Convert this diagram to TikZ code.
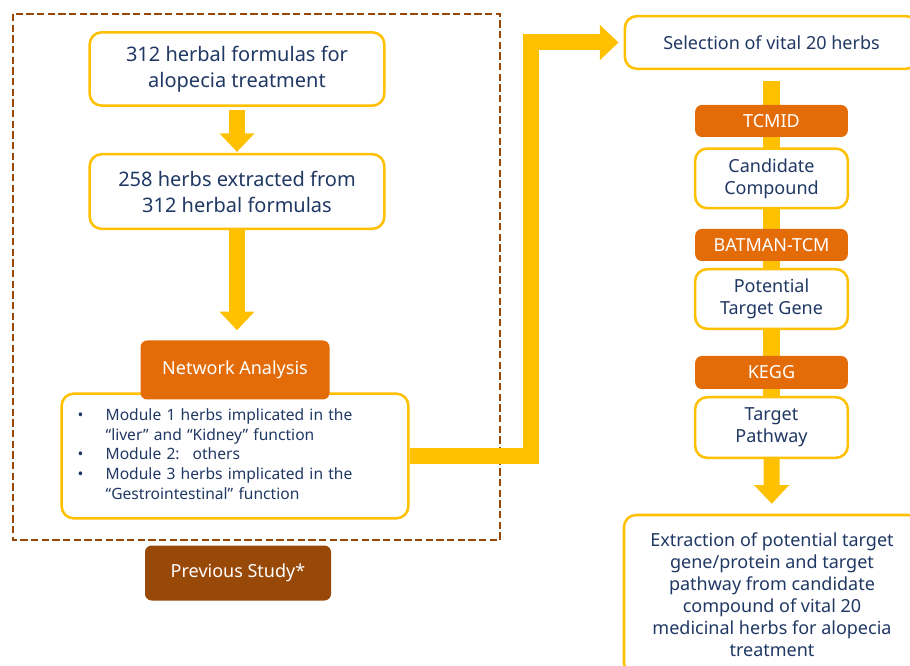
\documentclass[tikz,border=0pt]{standalone}
\usepackage{fontspec}
\setmainfont{Noto Sans}
\usepackage{tikz}
\usetikzlibrary{positioning}
\usetikzlibrary{arrows.meta}
\usetikzlibrary{backgrounds}
\definecolor{gold}{HTML}{FFC000}
\definecolor{rust}{HTML}{E36C09}
\definecolor{umber}{HTML}{984807}
\definecolor{ink}{HTML}{203864}

\begin{document}
\begin{tikzpicture}
          [x=0.75pt, y=-0.75pt, inner sep=0pt, align=center,
           box/.style={draw=gold, line width=1.9pt, fill=white, rounded corners=9pt, text=ink},
           tag/.style={fill=rust, rounded corners=5pt, text=white},
           flow/.style={draw=gold, line width=12pt, -{Triangle[width=25.5pt, length=14pt]}},
           big/.style={font=\fontsize{15}{19.5}\selectfont},
           mid/.style={font=\fontsize{13.5}{16.5}\selectfont},
           narrow/.style={minimum width=114.5pt}]
          \path[use as bounding box, clip] (0,0) rectangle (910,666);
          \draw[umber, line width=1.7pt, dash pattern=on 5.5pt off 2.5pt] (13,14) rectangle (500,540);

          \node (formulas) [box, big, minimum width=221pt, minimum height=55pt] at (237,69) {312 herbal formulas for\\alopecia treatment};
          \node (herbs) [box, big, minimum width=221pt, minimum height=56pt, below=34.5pt of formulas] {258 herbs extracted from\\312 herbal formulas};
          \node (modules) [box, minimum width=260pt, minimum height=93.5pt, text width=236pt, align=left,
                           font=\fontsize{11.7}{14.7}\selectfont] at (235,456)
                {\begin{tabular}{@{}p{21pt}@{}l@{}}
                 \textbullet & Module 1 herbs implicated in the\\
                             & “liver” and “Kidney” function\\
                 \textbullet & Module 2:~ others\\
                 \textbullet & Module 3 herbs implicated in the\\
                             & “Gestrointestinal” function
                 \end{tabular}};
          \node (network) [tag, mid, minimum width=141.75pt, minimum height=44.25pt] at (235,370) {Network Analysis};
          \node (previous) [tag, mid, fill=umber, minimum width=139.5pt, minimum height=41.25pt] at (238,573) {Previous Study*};

          \node (select) [box, mid, minimum width=220pt, minimum height=39.5pt] at (771.5,42.5) {Selection of vital 20 herbs};
          \node (tcmid) [tag, mid, narrow, minimum height=24pt] at (771.5,121) {TCMID};
          \node (compound) [box, mid, narrow, minimum height=44.75pt, below=7.5pt of tcmid] {Candidate\\Compound};
          \node (batman) [tag, mid, narrow, minimum height=24pt] at (771.5,245) {BATMAN-TCM};
          \node (gene) [box, mid, narrow, minimum height=44.75pt, below=5pt of batman] {Potential\\Target Gene};
          \node (kegg) [tag, mid, narrow, minimum height=24.75pt] at (771.5,372.5) {KEGG};
          \node (pathway) [box, mid, narrow, minimum height=45.5pt, below=5pt of kegg] {Target\\Pathway};
          \node (extract) [box, mid, minimum width=222pt, minimum height=120pt] at (772,595)
                {Extraction of potential target\\gene/protein and target\\pathway from candidate\\compound of vital 20\\medicinal herbs for alopecia\\treatment};

          \begin{scope}[on background layer]
            \draw[gold, line width=13pt, shorten <=8pt] (select) -- (pathway);
          \end{scope}
          \draw[flow, shorten <=2pt, shorten >=0.75pt] (formulas) -- (herbs);
          \draw[flow, shorten >=7.5pt] (herbs.south) -- (herbs.south |- network.north);
          \draw[flow, shorten >=3.75pt] (modules.east) -- ++(121,0) |- (select.west);
          \draw[flow, shorten >=7.5pt] (pathway) -- (extract);
        \end{tikzpicture}
\end{document}
